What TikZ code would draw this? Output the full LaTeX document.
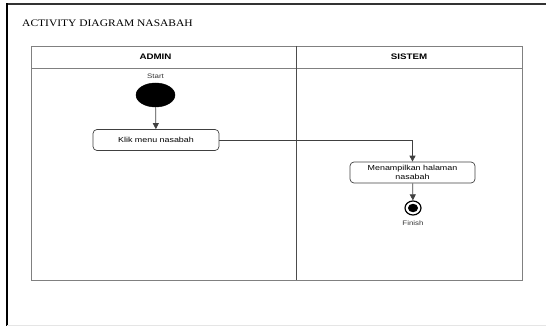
\documentclass[tikz,border=0pt]{standalone}
\usepackage{fontspec}
\setmainfont[FakeStretch=1.15]{Liberation Serif}
\newfontfamily\arialf[FakeStretch=1.22]{Liberation Sans}
\usetikzlibrary{arrows.meta,shapes.geometric}
\begin{document}
\begin{tikzpicture}[x=1pt,y=-1pt,
  lane/.style={draw=black!50,line width=0.8pt},
  act/.style={draw=black!75,line width=0.7pt,rounded corners=4pt,minimum width=126pt,minimum height=21pt,align=center,font=\arialf\fontsize{7.3}{8.5}\selectfont,inner sep=1pt},
  lbl/.style={font=\arialf\fontsize{6.5}{7}\selectfont,text=black!80,inner sep=0pt},
  hdr/.style={font=\arialf\bfseries\fontsize{8}{9}\selectfont,inner sep=0pt},
  flow/.style={draw=black!75,line width=0.7pt,-{Triangle[length=6pt,width=6pt]}}]
\useasboundingbox (0,0) rectangle (546,326);
% outer frame
\draw[black!80,line width=1.3pt] (7,4) -- (546,4);
\draw[black,line width=2pt] (7,3.4) -- (7,326);
\draw[black!10,line width=0.5pt] (7,325.5) -- (546,325.5);
\node[anchor=west,inner sep=0pt,font=\fontsize{10}{12}\selectfont] (title) at (22,23) {ACTIVITY DIAGRAM NASABAH};
% swimlanes
\draw[lane] (31,46) rectangle (522,280);
\draw[lane] (31,68) -- (522,68);
\draw[draw=black!70,line width=0.9pt] (296,46) -- (296,280);
\node[hdr] (admin) at (155.5,57) {ADMIN};
\node[hdr] (sistem) at (409,57) {SISTEM};
% nodes
\node[lbl] (startlbl) at (155.5,76) {Start};
\node[draw,fill=black,ellipse,minimum width=39pt,minimum height=24pt,inner sep=0pt] (start) at (155.5,95) {};
\node[act] (klik) at (156,140) {Klik menu nasabah};
\node[act,minimum width=125pt] (tampil) at (412.5,172.5) {Menampilkan halaman\\nasabah};
\node[draw=black,line width=1.2pt,ellipse,minimum width=16pt,minimum height=14pt,inner sep=0pt] (finish) at (413,208) {};
\node[fill=black,ellipse,minimum width=10pt,minimum height=8.5pt,inner sep=0pt] (finin) at (finish) {};
\node[lbl] (finlbl) at (413,223.5) {Finish};
% flows
\draw[flow] (start) -- (klik);
\draw[flow] (klik.east) -- (klik.east -| tampil) -- (tampil.north);
\draw[flow] (tampil) -- (finish);
\end{tikzpicture}
\end{document}
